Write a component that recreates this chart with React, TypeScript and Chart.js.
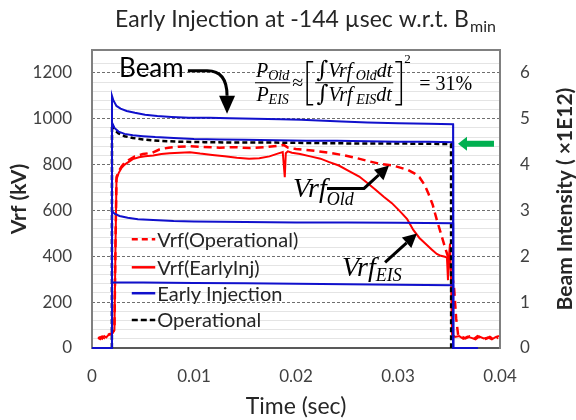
import React, { useEffect, useRef } from 'react';
import { Chart, registerables } from 'chart.js';

Chart.register(...registerables);

// ---------- data ----------
const TITLE_MAIN = 'Early Injection at -144 µsec w.r.t. B';
const TITLE_SUB = 'min';
const X_TITLE = 'Time (sec)';
const Y_TITLE = 'Vrf (kV)';
const Y1_TITLE = 'Beam Intensity ( ×1E12)';
const LEGEND_LABELS = ['Vrf(Operational)', 'Vrf(EarlyInj)', 'Early Injection', 'Operational'];

// Vrf (kV) – operational (dashed red)
const vrfOpTime = [0.0006, 0.0008, 0.0010, 0.0012, 0.0014, 0.0016, 0.0018, 0.0020, 0.0022, 0.0023, 0.0024, 0.0026, 0.0029, 0.0032, 0.0036, 0.0042, 0.0050, 0.0059, 0.0066, 0.0075, 0.0085, 0.0096, 0.0110, 0.0125, 0.0140, 0.0155, 0.0170, 0.0182, 0.0188, 0.0192, 0.0200, 0.0210, 0.0222, 0.0235, 0.0248, 0.0260, 0.0272, 0.0284, 0.0295, 0.0303, 0.0310, 0.0316, 0.0321, 0.0326, 0.0330, 0.0334, 0.0338, 0.0342, 0.0346, 0.0350, 0.0353, 0.0355, 0.0357, 0.0359, 0.0362, 0.0366, 0.0370, 0.0374, 0.0378, 0.0382, 0.0386, 0.0390, 0.0394, 0.0398];
const vrfOpValue = [45, 40, 50, 44, 55, 58, 62, 66, 80, 450, 745, 770, 792, 808, 820, 836, 846, 852, 866, 874, 878, 880, 877, 874, 876, 872, 876, 882, 886, 874, 868, 864, 858, 850, 840, 828, 814, 802, 796, 786, 776, 762, 745, 712, 672, 625, 560, 500, 440, 385, 320, 260, 130, 55, 50, 42, 50, 38, 52, 44, 40, 48, 36, 46];

// Vrf (kV) – early injection (solid red)
const vrfEiTime = [0.0006, 0.0008, 0.0010, 0.0012, 0.0014, 0.0016, 0.0018, 0.0020, 0.0022, 0.0023, 0.0024, 0.0026, 0.0029, 0.0032, 0.0036, 0.0040, 0.0046, 0.0052, 0.0060, 0.0068, 0.0076, 0.0086, 0.0096, 0.0106, 0.0118, 0.0130, 0.0142, 0.0154, 0.0164, 0.0174, 0.0182, 0.0187, 0.0189, 0.0190, 0.0192, 0.0196, 0.0204, 0.0214, 0.0224, 0.0232, 0.0242, 0.0252, 0.0262, 0.0270, 0.0278, 0.0286, 0.0294, 0.0302, 0.0309, 0.0315, 0.0321, 0.0327, 0.0333, 0.0338, 0.0342, 0.0346, 0.0348, 0.0349, 0.0350, 0.0351, 0.0352, 0.0353, 0.0356, 0.0360, 0.0364, 0.0368, 0.0372, 0.0376, 0.0380, 0.0384, 0.0388, 0.0392, 0.0396, 0.0399];
const vrfEiValue = [42, 48, 40, 52, 46, 56, 60, 64, 78, 430, 735, 762, 786, 800, 812, 824, 832, 836, 840, 846, 850, 852, 854, 848, 842, 836, 830, 826, 828, 836, 848, 855, 745, 850, 858, 852, 846, 836, 826, 812, 796, 772, 748, 720, 690, 660, 632, 596, 562, 515, 480, 455, 430, 410, 402, 398, 394, 296, 400, 455, 300, 60, 48, 52, 40, 50, 44, 38, 50, 42, 46, 38, 48, 52];

// Beam intensity (x1E12) – blue traces
const beamATime = [0, 0.00195, 0.00196, 0.0021, 0.0024, 0.0028, 0.0034, 0.0042, 0.0052, 0.0064, 0.0078, 0.0095, 0.0115, 0.0135, 0.0160, 0.0185, 0.0205, 0.0222, 0.0245, 0.0270, 0.0300, 0.0330, 0.0354, 0.03541, 0.0378];
const beamAValue = [0, 0, 5.50, 5.40, 5.28, 5.22, 5.17, 5.13, 5.09, 5.06, 5.04, 5.02, 5.02, 5.01, 5.00, 4.99, 4.98, 4.96, 4.94, 4.92, 4.90, 4.89, 4.88, 0, 0];
const beamBTime = [0, 0.00195, 0.00196, 0.0022, 0.0026, 0.0032, 0.0040, 0.0050, 0.0062, 0.0080, 0.0100, 0.0125, 0.0150, 0.0180, 0.0210, 0.0240, 0.0270, 0.0300, 0.0330, 0.0354, 0.03541, 0.0378];
const beamBValue = [0, 0, 4.92, 4.80, 4.72, 4.67, 4.64, 4.62, 4.60, 4.58, 4.56, 4.55, 4.54, 4.53, 4.52, 4.52, 4.51, 4.50, 4.50, 4.49, 0, 0];
const beamCTime = [0, 0.00195, 0.00196, 0.0022, 0.0027, 0.0035, 0.0045, 0.0060, 0.0080, 0.0100, 0.0150, 0.0200, 0.0250, 0.0300, 0.0354, 0.03541, 0.0378];
const beamCValue = [0, 0, 2.99, 2.93, 2.88, 2.84, 2.81, 2.79, 2.77, 2.76, 2.75, 2.74, 2.74, 2.73, 2.72, 0, 0];
const beamDTime = [0, 0.00195, 0.00196, 0.0050, 0.0100, 0.0150, 0.0200, 0.0250, 0.0300, 0.0354, 0.03541, 0.0378];
const beamDValue = [0, 0, 1.43, 1.43, 1.42, 1.41, 1.40, 1.39, 1.38, 1.37, 0, 0];
// Operational beam (black dashed)
const beamOpTime = [0.00195, 0.00196, 0.0022, 0.0026, 0.0032, 0.0040, 0.0050, 0.0065, 0.0085, 0.0110, 0.0140, 0.0180, 0.0220, 0.0260, 0.0300, 0.0352, 0.03521];
const beamOpValue = [0, 4.88, 4.76, 4.68, 4.62, 4.58, 4.55, 4.52, 4.50, 4.49, 4.48, 4.48, 4.47, 4.46, 4.46, 4.45, 0];

const RED = '#ff0000';
const BLUE = '#1010cc';
const BLACK = '#000000';
const GREEN = '#00b050';
const TEXT = '#262626';

const pts = (t: number[], v: number[]) => t.map((x, i) => ({ x, y: v[i] }));

function arrowHead(ctx: CanvasRenderingContext2D, fx: number, fy: number, tx: number, ty: number, len: number, hw: number) {
  const a = Math.atan2(ty - fy, tx - fx);
  const bx = tx - len * Math.cos(a);
  const by = ty - len * Math.sin(a);
  ctx.beginPath();
  ctx.moveTo(tx, ty);
  ctx.lineTo(bx + hw * Math.sin(a), by - hw * Math.cos(a));
  ctx.lineTo(bx - hw * Math.sin(a), by + hw * Math.cos(a));
  ctx.closePath();
  ctx.fill();
  return { bx, by };
}

type Run = { t: string; f: string; dy?: number };
function runsWidth(ctx: CanvasRenderingContext2D, runs: Run[]) {
  let w = 0;
  for (const r of runs) { ctx.font = r.f; w += ctx.measureText(r.t).width; }
  return w;
}
function drawRuns(ctx: CanvasRenderingContext2D, x: number, y: number, runs: Run[]) {
  let cx = x;
  for (const r of runs) {
    ctx.font = r.f;
    ctx.fillText(r.t, cx, y + (r.dy || 0));
    cx += ctx.measureText(r.t).width;
  }
  return cx - x;
}

const annotPlugin = {
  id: 'annot',
  afterDatasetsDraw(chart: any) {
    const { ctx, scales } = chart;
    const X = (t: number) => scales.x.getPixelForValue(t);
    const Y = (v: number) => scales.y.getPixelForValue(v);
    ctx.save();
    ctx.textBaseline = 'alphabetic';
    ctx.textAlign = 'left';

    // ----- legend -----
    const legendRows = [474, 352, 239, 122];
    const legendStyles = [
      { c: RED, d: [6, 4], w: 2.5 },
      { c: RED, d: [], w: 2.5 },
      { c: BLUE, d: [], w: 2.5 },
      { c: BLACK, d: [6, 3], w: 2.5 },
    ];
    legendRows.forEach((v, i) => {
      const yy = Y(v);
      const s = legendStyles[i];
      ctx.strokeStyle = s.c;
      ctx.lineWidth = s.w;
      ctx.setLineDash(s.d);
      ctx.beginPath();
      ctx.moveTo(X(0.0039), yy);
      ctx.lineTo(X(0.0062), yy);
      ctx.stroke();
      ctx.setLineDash([]);
      ctx.fillStyle = TEXT;
      ctx.font = '20px Lato';
      ctx.textBaseline = 'middle';
      ctx.fillText(LEGEND_LABELS[i], X(0.0064), yy + 1);
    });
    ctx.textBaseline = 'alphabetic';

    // ----- "Beam" label + curved arrow -----
    ctx.fillStyle = '#000';
    ctx.font = '26px Lato';
    ctx.fillText('Beam', X(0.00265), Y(1183));
    ctx.strokeStyle = '#000';
    ctx.lineWidth = 3;
    ctx.beginPath();
    ctx.moveTo(X(0.0094), Y(1209));
    ctx.lineTo(X(0.0113), Y(1209));
    ctx.quadraticCurveTo(X(0.01324), Y(1209), X(0.01324), Y(1100));
    ctx.stroke();
    arrowHead(ctx, X(0.01324), Y(1100), X(0.01324), Y(1022), 18, 8);

    // ----- formula -----
    const IT = 'italic 20px "Liberation Serif"';
    const SUB = 'italic 14px "Liberation Serif"';
    const RM = '20px "Liberation Serif"';
    const INT = '23px "DejaVu Serif"';
    const x0 = X(0.01598);
    const barY = Y(1157);
    ctx.lineWidth = 1;
    const num1: Run[] = [{ t: 'P', f: IT }, { t: 'Old', f: SUB, dy: 3 }];
    const den1: Run[] = [{ t: 'P', f: IT }, { t: 'EIS', f: SUB, dy: 3 }];
    const w1 = Math.max(runsWidth(ctx, num1), runsWidth(ctx, den1)) + 2;
    drawRuns(ctx, x0 + (w1 - runsWidth(ctx, num1)) / 2, barY - 6, num1);
    drawRuns(ctx, x0 + (w1 - runsWidth(ctx, den1)) / 2, barY + 18, den1);
    ctx.beginPath(); ctx.moveTo(x0, barY); ctx.lineTo(x0 + w1, barY); ctx.stroke();
    let cx = x0 + w1 + 2;
    ctx.font = RM;
    ctx.fillText('≈', cx, barY + 6);
    cx += ctx.measureText('≈').width + 2;
    ctx.lineWidth = 1.5;
    ctx.beginPath();
    ctx.moveTo(cx + 8, barY - 21); ctx.lineTo(cx + 2, barY - 21); ctx.lineTo(cx + 2, barY + 22); ctx.lineTo(cx + 8, barY + 22);
    ctx.stroke();
    cx += 10;
    const num2: Run[] = [{ t: '∫', f: INT }, { t: 'Vrf', f: IT }, { t: ' Old', f: SUB, dy: 3 }, { t: 'dt', f: IT }];
    const den2: Run[] = [{ t: '∫', f: INT }, { t: 'Vrf', f: IT }, { t: ' EIS', f: SUB, dy: 3 }, { t: 'dt', f: IT }];
    const w2 = Math.max(runsWidth(ctx, num2), runsWidth(ctx, den2)) + 2;
    drawRuns(ctx, cx + (w2 - runsWidth(ctx, num2)) / 2, barY - 6, num2);
    drawRuns(ctx, cx + (w2 - runsWidth(ctx, den2)) / 2, barY + 18, den2);
    ctx.lineWidth = 1;
    ctx.beginPath(); ctx.moveTo(cx, barY); ctx.lineTo(cx + w2, barY); ctx.stroke();
    cx += w2 + 2;
    ctx.lineWidth = 1.5;
    ctx.beginPath();
    ctx.moveTo(cx, barY - 21); ctx.lineTo(cx + 6, barY - 21); ctx.lineTo(cx + 6, barY + 22); ctx.lineTo(cx, barY + 22);
    ctx.stroke();
    cx += 9;
    ctx.font = '13px "Liberation Serif"';
    ctx.fillText('2', cx, barY - 20);
    cx += 15;
    ctx.font = RM;
    ctx.fillText('= 31%', cx, barY + 7);

    // ----- Vrf_Old label + arrow -----
    drawRuns(ctx, X(0.01971), Y(657), [
      { t: 'Vrf', f: 'italic 28px "Liberation Serif"' },
      { t: 'Old', f: 'italic 18px "Liberation Serif"', dy: 8 },
    ]);
    ctx.lineWidth = 3;
    const tipOx = X(0.02912), tipOy = Y(796);
    const bendX = X(0.02667), bendY = Y(696);
    const hO = arrowHead(ctx, bendX, bendY, tipOx, tipOy, 14, 7);
    ctx.beginPath();
    ctx.moveTo(X(0.02304), bendY);
    ctx.lineTo(bendX, bendY);
    ctx.lineTo(hO.bx, hO.by);
    ctx.stroke();

    // ----- Vrf_EIS label + arrow -----
    drawRuns(ctx, X(0.02451), Y(313), [
      { t: 'Vrf', f: 'italic 28px "Liberation Serif"' },
      { t: 'EIS', f: 'italic 18px "Liberation Serif"', dy: 5 },
    ]);
    const tailEx = X(0.02873), tailEy = Y(374);
    const hE = arrowHead(ctx, tailEx, tailEy, X(0.03186), Y(500), 14, 7);
    ctx.beginPath();
    ctx.moveTo(tailEx, tailEy);
    ctx.lineTo(hE.bx, hE.by);
    ctx.stroke();

    // ----- green arrow -----
    const gy = Y(891);
    const gTip = X(0.03588);
    ctx.fillStyle = GREEN;
    ctx.fillRect(gTip + 8, gy - 3, X(0.03941) - gTip - 8, 6);
    ctx.beginPath();
    ctx.moveTo(gTip, gy);
    ctx.lineTo(gTip + 9, gy - 7);
    ctx.lineTo(gTip + 9, gy + 7);
    ctx.closePath();
    ctx.fill();
    ctx.restore();
  },
  afterDraw(chart: any) {
    const { ctx, chartArea } = chart;
    ctx.save();
    // chart title with subscript
    ctx.fillStyle = TEXT;
    ctx.textBaseline = 'alphabetic';
    ctx.font = '23px Lato';
    const wMain = ctx.measureText(TITLE_MAIN).width;
    ctx.font = '16px Lato';
    const wSub = ctx.measureText(TITLE_SUB).width;
    const tx = 305 - (wMain + wSub) / 2;
    ctx.font = '23px Lato';
    ctx.fillText(TITLE_MAIN, tx, 27);
    ctx.font = '16px Lato';
    ctx.fillText(TITLE_SUB, tx + wMain + 1, 32);
    // right axis title, reading bottom-to-top
    ctx.translate(565, (chartArea.top + chartArea.bottom) / 2);
    ctx.rotate(-Math.PI / 2);
    ctx.textAlign = 'center';
    ctx.textBaseline = 'middle';
    ctx.font = 'bold 21px Lato';
    ctx.fillStyle = TEXT;
    ctx.fillText(Y1_TITLE, 0, 0);
    ctx.restore();
  },
};

export default function App() {
  const ref = useRef<HTMLCanvasElement>(null);
  useEffect(() => {
    const tickFont = { family: 'Lato', size: 17, weight: 'normal' };
    const chart = new Chart(ref.current!, {
      type: 'line',
      data: {
        datasets: [
          { label: 'Early Injection', data: pts(beamATime, beamAValue), yAxisID: 'y1', borderColor: BLUE, borderWidth: 2, order: 2 },
          { label: 'Early Injection B', data: pts(beamBTime, beamBValue), yAxisID: 'y1', borderColor: BLUE, borderWidth: 2, order: 3 },
          { label: 'Early Injection C', data: pts(beamCTime, beamCValue), yAxisID: 'y1', borderColor: BLUE, borderWidth: 2, order: 2 },
          { label: 'Early Injection D', data: pts(beamDTime, beamDValue), yAxisID: 'y1', borderColor: BLUE, borderWidth: 2, order: 2 },
          { label: 'Operational', data: pts(beamOpTime, beamOpValue), yAxisID: 'y1', borderColor: BLACK, borderWidth: 2.5, borderDash: [5, 3], order: 4 },
          { label: 'Vrf(Operational)', data: pts(vrfOpTime, vrfOpValue), yAxisID: 'y', borderColor: RED, borderWidth: 2.5, borderDash: [8, 5], order: 5 },
          { label: 'Vrf(EarlyInj)', data: pts(vrfEiTime, vrfEiValue), yAxisID: 'y', borderColor: RED, borderWidth: 2, order: 6 },
        ],
      },
      options: {
        animation: false,
        responsive: false,
        elements: { point: { radius: 0 }, line: { tension: 0, fill: false } },
        layout: { padding: { top: 50, left: 0, right: 0, bottom: 0 } },
        plugins: { legend: { display: false }, tooltip: { enabled: false }, title: { display: false } },
        datasets: { line: { clip: 4 } } as any,
        scales: {
          x: {
            type: 'linear',
            min: 0,
            max: 0.04,
            afterFit: (s: any) => { s.height = 72; },
            grid: { display: false, drawTicks: false },
            border: { display: true, color: '#595959', width: 2 },
            ticks: {
              stepSize: 0.01,
              padding: 18,
              font: tickFont,
              color: '#404040',
              callback: (v: any) => String(+Number(v).toFixed(2)),
            },
            title: { display: true, text: X_TITLE, font: { family: 'Lato', size: 23, weight: 'normal' }, color: TEXT, padding: { top: 0, bottom: 0 } },
          },
          y: {
            position: 'left',
            min: 0,
            max: 1300,
            afterFit: (s: any) => { s.width = 92; },
            grid: {
              drawTicks: false,
              color: (c: any) => {
                const v = c.tick ? c.tick.value : 0;
                if (v >= 1300) return '#808080';
                if (v % 200 === 0) return 'rgba(0,0,0,0)';
                return '#e4e4e4';
              },
              lineWidth: (c: any) => (c.tick && c.tick.value >= 1300 ? 2 : 1),
            },
            border: { display: true, color: '#808080', width: 2 },
            ticks: {
              stepSize: 40,
              autoSkip: false,
              padding: 20,
              font: tickFont,
              color: '#404040',
              callback: (v: any) => (Number(v) % 200 === 0 ? String(v) : ''),
            },
            title: { display: true, text: Y_TITLE, font: { family: 'Lato', size: 21, weight: 'bold' }, color: TEXT, padding: { top: 7, bottom: 0 } },
          },
          y1: {
            position: 'right',
            min: 0,
            max: 6.5,
            afterFit: (s: any) => { s.width = 76; },
            grid: {
              drawTicks: false,
              drawOnChartArea: true,
              color: (c: any) => {
                const v = c.tick ? c.tick.value : 0;
                return Number.isInteger(v) && v > 0 ? '#6f6f6f' : 'rgba(0,0,0,0)';
              },
              lineWidth: 1,
            },
            border: { display: true, color: '#808080', width: 2, dash: [3, 2] },
            ticks: {
              stepSize: 1,
              autoSkip: false,
              padding: 20,
              font: tickFont,
              color: '#404040',
              callback: (v: any) => (Number.isInteger(Number(v)) ? String(v) : ''),
            },
          },
        },
      } as any,
      plugins: [annotPlugin],
    });
    return () => chart.destroy();
  }, []);
  return (
    <div style={{ position: 'fixed', left: 0, top: 0, width: 576, height: 420, background: '#fff' }}>
      <canvas ref={ref} width={576} height={420} style={{ display: 'block', width: 576, height: 420 }} />
    </div>
  );
}
